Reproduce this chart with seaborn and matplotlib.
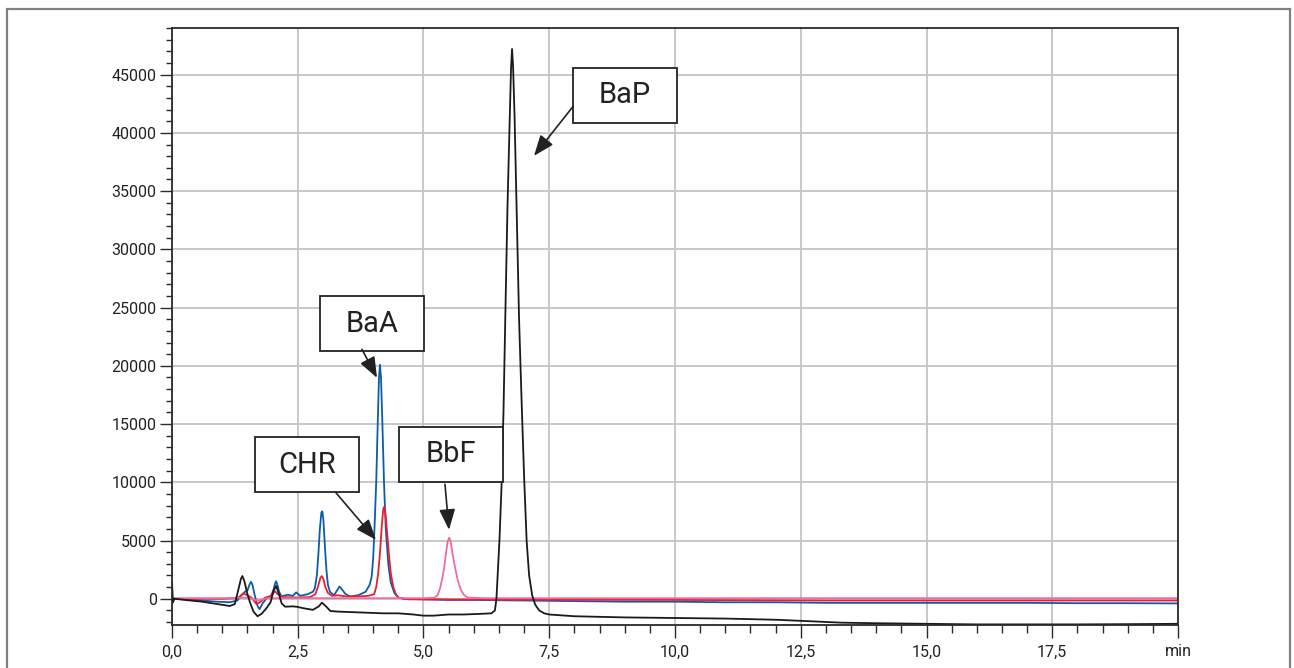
import numpy as np
import pandas as pd
import seaborn as sns
import matplotlib.pyplot as plt
from matplotlib.patches import Rectangle

sns.set_theme(style="ticks")
plt.rcParams['font.family'] = ['Roboto', 'DejaVu Sans']

# ---- chromatogram traces (time in min, signal) ----
black_t = [0.0, 0.02, 0.05, 0.3, 0.6, 0.9, 1.15, 1.25, 1.32, 1.37, 1.4, 1.44, 1.5, 1.55, 1.62, 1.7, 1.78,
           1.88, 1.96, 2.02, 2.07, 2.12, 2.18, 2.25, 2.4, 2.5, 2.6, 2.8, 2.92, 2.98, 3.05, 3.15,
           3.3, 3.6, 3.9, 4.2, 4.5, 4.8, 5.0, 5.2, 5.5, 5.8, 6.1, 6.35, 6.42, 6.45, 6.48, 6.51,
           6.55, 6.59, 6.63, 6.67, 6.71, 6.74, 6.76, 6.78, 6.81, 6.85, 6.9, 6.95, 7.0, 7.05,
           7.1, 7.16, 7.22, 7.3, 7.4, 7.5, 8.0, 9.0, 10.0, 11.0, 12.0, 12.8, 13.3, 14.0, 15.0,
           16.0, 17.0, 18.0, 19.0, 20.0]
black_v = [1450, -300, 0, -120, -250, -450, -620, -450, 800, 1700, 1950, 1500, 400, -300, -1100, -1500, -1300,
           -800, -300, 700, 1100, 500, -400, -680, -650, -700, -800, -950, -650, -330, -600, -1050,
           -1100, -1150, -1200, -1250, -1250, -1350, -1450, -1450, -1350, -1350, -1300, -1250, -1000, 0, 2500, 5000,
           9500, 16000, 25000, 33700, 40500, 45500, 47200, 45800, 41500, 33700, 24000, 17000, 10500, 5000,
           2000, 300, -500, -1000, -1250, -1350, -1500, -1600, -1650, -1700, -1800, -1950, -2050, -2100, -2150,
           -2200, -2200, -2200, -2180, -2150]

blue_t = [0.0, 0.3, 0.6, 0.9, 1.15, 1.3, 1.38, 1.45, 1.5, 1.54, 1.57, 1.6, 1.65, 1.7, 1.74, 1.8, 1.9, 1.97,
          2.02, 2.05, 2.07, 2.09, 2.13, 2.18, 2.3, 2.4, 2.47, 2.55, 2.7, 2.8, 2.84, 2.88, 2.91,
          2.94, 2.97, 2.99, 3.01, 3.04, 3.07, 3.1, 3.14, 3.22, 3.28, 3.33, 3.38, 3.45, 3.55, 3.7,
          3.85, 3.93, 3.97, 4.0, 4.03, 4.06, 4.09, 4.115, 4.135, 4.155, 4.18, 4.215, 4.25, 4.3,
          4.35, 4.42, 4.5, 4.6, 5.0, 5.5, 6.0, 7.0, 8.0, 9.0, 10.0, 11.0, 12.0, 13.0, 14.0, 15.0,
          16.0, 17.0, 18.0, 19.0, 20.0]
blue_v = [0, -50, -150, -250, -300, -150, 300, 600, 700, 1200, 1450, 1200, 200, -600, -900, -400, 150, 250,
          800, 1300, 1500, 1300, 600, 200, 350, 250, 550, 250, 400, 600, 900, 2000, 3800,
          6000, 7400, 7500, 6800, 4500, 2500, 1200, 600, 300, 700, 1050, 800, 400, 200, 300,
          600, 1200, 1900, 3500, 6500, 10000, 15000, 19000, 20100, 19000, 15500, 10000, 6000, 3000,
          1400, 500, 100, 0, -50, -100, -100, -150, -200, -250, -250, -300, -300, -350, -350, -350,
          -350, -350, -380, -380, -400]

red_t = [0.0, 0.5, 1.0, 1.3, 1.42, 1.48, 1.58, 1.68, 1.75, 1.85, 1.95, 2.05, 2.1, 2.2, 2.5,
         2.75, 2.85, 2.9, 2.95, 2.98, 3.01, 3.05, 3.1, 3.18, 3.3, 3.45, 3.7, 3.9, 4.02, 4.06,
         4.1, 4.135, 4.17, 4.2, 4.22, 4.245, 4.28, 4.31, 4.35, 4.4, 4.45, 4.5, 4.7, 5.0, 7.0,
         10.0, 13.0, 16.0, 20.0]
red_v = [0, 0, 0, 50, 450, 350, 100, -450, -300, 100, 200, 650, 400, 150, 100,
         150, 400, 1000, 1800, 1950, 1700, 1000, 500, 250, 300, 200, 200, 250, 400, 1000,
         2200, 3950, 6200, 7700, 7900, 7300, 5500, 3950, 2200, 1000, 400, 100, -50, -50, -80,
         -100, -150, -150, -150]

pink_t = [0.0, 0.03, 0.5, 1.0, 1.5, 1.7, 1.9, 2.5, 3.0, 4.0, 5.0, 5.22, 5.28, 5.33, 5.38, 5.41,
          5.45, 5.48, 5.51, 5.54, 5.58, 5.63, 5.68, 5.74, 5.8, 5.88, 6.2, 8.0, 10.0, 13.0,
          16.0, 20.0]
pink_v = [-400, 50, 50, 50, 100, -150, 50, 50, 50, 50, 50, 100, 300, 900, 1900, 2630,
          4000, 4900, 5250, 4900, 3800, 2630, 1600, 800, 350, 100, 50, 50, 50, 50,
          50, 50]

x_ticks = [0.0, 2.5, 5.0, 7.5, 10.0, 12.5, 15.0, 17.5, 20.0]
x_labels = ['0,0', '2,5', '5,0', '7,5', '10,0', '12,5', '15,0', '17,5', 'min']
y_ticks = [0, 5000, 10000, 15000, 20000, 25000, 30000, 35000, 40000, 45000]

# peak labels: text, box centre (t, v), arrow start (t, v), arrow tip (t, v)
peak_names = ['BaP', 'BaA', 'CHR', 'BbF']
box_centres = [(9.006, 43220), (3.986, 23600), (2.684, 11500), (5.537, 12400)]
arrow_starts = [(7.973, 42270), (3.777, 21420), (3.260, 9100), (5.427, 9830)]
arrow_tips = [(7.197, 38030), (4.076, 18970), (4.056, 5060), (5.507, 5920)]

palette = {'blue': '#0b5cab', 'red': '#e8202e', 'pink': '#f06aa6', 'black': '#1a1a1a'}

frames = []
for name, t, v in [('blue', blue_t, blue_v), ('red', red_t, red_v),
                   ('pink', pink_t, pink_v), ('black', black_t, black_v)]:
    frames.append(pd.DataFrame({'t': t, 'v': v, 'trace': name}))
df = pd.concat(frames, ignore_index=True)

fig = plt.figure(figsize=(12.94, 6.68), dpi=100)
ax = fig.add_axes([0.1329, 0.0644, 0.7775, 0.8936])

sns.lineplot(data=df, x='t', y='v', hue='trace', hue_order=['blue', 'red', 'pink', 'black'],
             palette=palette, sort=False, estimator=None, legend=False, linewidth=1.3, ax=ax)

ax.set_xlim(0, 20)
ax.set_ylim(-2250, 49000)
ax.set_xticks(x_ticks)
ax.set_xticklabels(x_labels)
ax.set_yticks(y_ticks)
ax.set_yticklabels([str(y) for y in y_ticks])
ax.set_xticks(np.arange(0, 20.01, 0.5), minor=True)
ax.set_yticks(np.arange(-2000, 49001, 1000), minor=True)
ax.set_xlabel('')
ax.set_ylabel('')

ax.grid(True, which='major', color='#c4c4c8', linewidth=1.3)
ax.set_axisbelow(True)
for s in ax.spines.values():
    s.set_color('#2a2a2a')
    s.set_linewidth(1.3)
ax.tick_params(axis='both', which='major', length=9, width=1.0, color='#2a2a2a',
               labelsize=11.5, labelcolor='#222222', pad=2)
ax.tick_params(axis='y', which='minor', length=4, width=1.0, color='#2a2a2a')
ax.tick_params(axis='x', which='minor', length=6, width=1.0, color='#2a2a2a')
ax.tick_params(axis='x', which='major', pad=5)

# peak label boxes and arrows
box_w = 104 / 50.3
box_h = 55 / 0.01165
for name, c, s, tip in zip(peak_names, box_centres, arrow_starts, arrow_tips):
    ax.add_patch(Rectangle((c[0] - box_w / 2, c[1] - box_h / 2), box_w, box_h,
                           facecolor='white', edgecolor='#222222', linewidth=1.3, zorder=5))
    ax.text(c[0], c[1], name, ha='center', va='center', fontsize=21, color='#222222', zorder=6)
    ax.annotate('', xy=tip, xytext=s,
                arrowprops=dict(arrowstyle='-|>,head_length=0.9,head_width=0.35', color='#222222',
                                lw=1.2, shrinkA=0, shrinkB=0, mutation_scale=14), zorder=6)

# outer frame
fig.patches.append(Rectangle((0.0054, -0.02), 0.9915, 1.0065, transform=fig.transFigure,
                             fill=False, edgecolor='#808080', linewidth=1.6))

fig.savefig('out.png', dpi=100)
